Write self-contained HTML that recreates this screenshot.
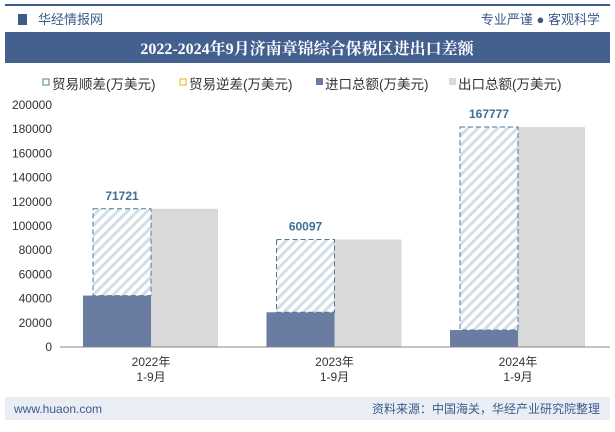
<!DOCTYPE html>
<html><head><meta charset="utf-8"><style>
body{margin:0;width:615px;height:427px;background:#fff;overflow:hidden;font-family:"Liberation Sans","Noto Sans CJK SC",sans-serif;}
</style></head><body>
<svg width="615" height="427" xmlns="http://www.w3.org/2000/svg" font-family="Liberation Sans, Noto Sans CJK SC, sans-serif">
<defs><pattern id="hatch" width="7" height="7" patternUnits="userSpaceOnUse" patternTransform="rotate(45)"><rect width="7" height="7" fill="#fff"/><rect width="3" height="7" fill="#d3dee6"/></pattern></defs>
<rect x="5" y="4" width="605" height="2" fill="#3d5a8a"/>
<rect x="18" y="14" width="9" height="11" fill="#3d5a8a"/>
<text x="38" y="24" font-size="13" fill="#3d5a8a">华经情报网</text>
<text x="600" y="24" font-size="13" fill="#3d5a8a" text-anchor="end">专业严谨 ● 客观科学</text>
<rect x="5" y="32" width="605" height="31" fill="#44608f"/>
<text x="307" y="54" font-size="16" font-weight="bold" fill="#fff" text-anchor="middle" font-family="Liberation Serif, Noto Serif CJK SC, serif">2022-2024年9月济南章锦综合保税区进出口差额</text>
<g font-size="13.5" fill="#333">
<rect x="43" y="79" width="6" height="6" fill="#fff" stroke="#4a7fa0"/>
<text x="52" y="89">贸易顺差(万美元)</text>
<rect x="180" y="79" width="6" height="6" fill="#fff" stroke="#e8b400"/>
<text x="189" y="89">贸易逆差(万美元)</text>
<rect x="316" y="78" width="7" height="7" fill="#6a7ca1"/>
<text x="325" y="89">进口总额(万美元)</text>
<rect x="449" y="78" width="7" height="7" fill="#d9d9d9"/>
<text x="458" y="89">出口总额(万美元)</text>
</g>
<g id="chart"></g>
<rect x="5" y="397" width="605" height="23" fill="#e9edf4"/>
<text x="14" y="413" font-size="12" fill="#3d5a8a">www.huaon.com</text>
<text x="600" y="413" font-size="12" fill="#3d5a8a" text-anchor="end">资料来源：中国海关，华经产业研究院整理</text>
</svg>
<script>
const categories=["2022年\n1-9月","2023年\n1-9月","2024年\n1-9月"];
const importValues=[42500,28700,14000];
const exportValues=[114221,88797,181777];
const balanceLabels=["71721","60097","167777"];
const yTicks=[0,20000,40000,60000,80000,100000,120000,140000,160000,180000,200000];
const NS="http://www.w3.org/2000/svg";
const g=document.getElementById('chart');
const y0=347,yTop=105,yMax=200000;
const y=v=>y0-(v/yMax)*(y0-yTop);
const cx=i=>151+i*183.5;
function mk(t,a,p){const e=document.createElementNS(NS,t);for(const k in a)e.setAttribute(k,a[k]);(p||g).appendChild(e);return e;}
yTicks.forEach(v=>{const t=mk('text',{x:52,y:y(v)+4,'font-size':12,fill:'#333','text-anchor':'end'});t.textContent=v;

});
categories.forEach((c,i)=>{
const x=cx(i);
const ex=mk('rect',{x:x,y:y(exportValues[i]),width:67,height:y0-y(exportValues[i]),fill:'#d9d9d9'});


const im=mk('rect',{x:x-68,y:y(importValues[i]),width:68,height:y0-y(importValues[i]),fill:'#6a7ca1'});


const hb=mk('rect',{x:x-58,y:y(exportValues[i]),width:58,height:y(importValues[i])-y(exportValues[i]),fill:'url(#hatch)',stroke:'#4a7a9a','stroke-dasharray':'5,3'});


const lb=mk('text',{x:x-29,y:y(exportValues[i])-9,'font-size':12,'font-weight':'bold',fill:'#3f6f94','text-anchor':'middle'});lb.textContent=balanceLabels[i];


c.split('\n').forEach((s,j)=>{const t=mk('text',{x:x,y:366+j*15,'font-size':12,fill:'#333','text-anchor':'middle'});t.textContent=s;

});
});
const ax=mk('line',{x1:60,x2:610,y1:y0,y2:y0,stroke:'#888'});


</script>
</body></html>
